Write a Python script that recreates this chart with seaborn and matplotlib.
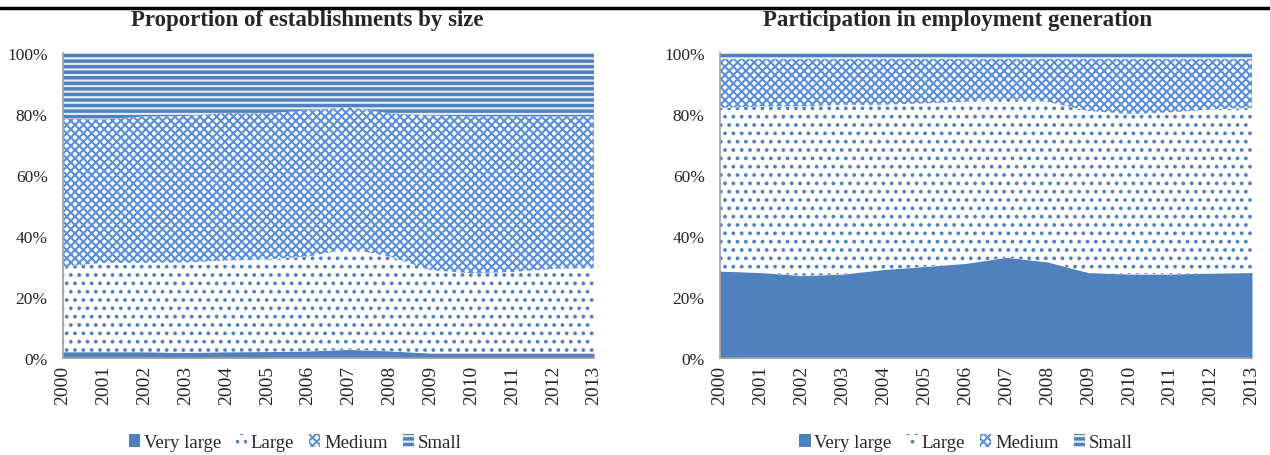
import numpy as np
import pandas as pd
import matplotlib
matplotlib.use("Agg")
import matplotlib.pyplot as plt
import seaborn as sns
from matplotlib.patches import Patch
from matplotlib.ticker import PercentFormatter

years = list(range(2000, 2014))
series = ["Very large", "Large", "Medium", "Small"]

# Proportion of establishments by size (% of total)
est_very_large = [2.0, 2.0, 2.0, 1.8, 2.0, 2.1, 2.3, 2.8, 2.3, 1.6, 1.6, 1.6, 1.6, 1.6]
est_large = [28.0, 29.2, 29.2, 29.5, 30.0, 30.2, 31.0, 33.0, 31.0, 27.2, 26.2, 26.6, 27.6, 28.0]
est_medium = [48.4, 47.0, 48.0, 48.0, 48.3, 47.9, 47.9, 46.4, 46.9, 50.7, 51.4, 51.0, 50.0, 49.6]
est_small = [21.6, 21.8, 20.8, 20.7, 19.7, 19.8, 18.8, 17.8, 19.8, 20.5, 20.8, 20.8, 20.8, 20.8]

# Participation in employment generation (% of total)
emp_very_large = [28.5, 28.0, 27.0, 27.5, 29.0, 30.0, 31.0, 33.0, 31.5, 28.0, 27.5, 27.5, 27.8, 28.0]
emp_large = [53.5, 54.5, 55.5, 55.5, 54.0, 53.5, 53.0, 52.0, 52.5, 53.0, 52.5, 53.0, 53.7, 54.0]
emp_medium = [16.0, 15.5, 15.5, 15.0, 15.0, 14.5, 14.0, 13.0, 14.0, 17.0, 18.0, 17.5, 16.5, 16.0]
emp_small = [2.0, 2.0, 2.0, 2.0, 2.0, 2.0, 2.0, 2.0, 2.0, 2.0, 2.0, 2.0, 2.0, 2.0]

titles = ["Proportion of establishments by size", "Participation in employment generation"]

sns.set_style("white")
plt.rcParams["font.family"] = ["Liberation Serif", "DejaVu Serif"]
plt.rcParams["hatch.linewidth"] = 1.5

blue = "#4F81BD"
styles = [
    dict(facecolor=blue, edgecolor=blue, hatch=None),
    dict(facecolor="white", edgecolor=blue, hatch=".."),
    dict(facecolor="white", edgecolor="#5B8FDB", hatch="xxxx"),
    dict(facecolor=blue, edgecolor="#E8EEF7", hatch="---"),
]

fig = plt.figure(figsize=(12.7, 4.56), dpi=100)
axes = [fig.add_axes([0.0496, 0.2127, 0.4181, 0.6689]),
        fig.add_axes([0.5669, 0.2127, 0.4189, 0.6689])]

datasets = [
    [est_very_large, est_large, est_medium, est_small],
    [emp_very_large, emp_large, emp_medium, emp_small],
]

for i, (ax, data, title, cx) in enumerate(zip(axes, datasets, titles, [0.2417, 0.7543])):
    df = pd.DataFrame(dict(zip(series, data)), index=years)
    cum = df.cumsum(axis=1)
    lower = np.zeros(len(years))
    for name, st in zip(series, styles):
        upper = cum[name].values
        ax.fill_between(df.index, lower, upper, facecolor=st["facecolor"],
                        edgecolor=st["edgecolor"], hatch=st["hatch"], linewidth=0)
        lower = upper
    sns.lineplot(x=df.index, y=cum["Small"].values, ax=ax, color=blue, linewidth=0)
    ax.set_xlabel("")
    ax.set_ylabel("")
    ax.set_xlim(2000, 2013)
    ax.set_ylim(0, 100)
    ax.set_xticks(years)
    ax.set_xticklabels([str(y) for y in years], rotation=90, fontsize=14)
    ax.set_yticks(range(0, 101, 20))
    ax.yaxis.set_major_formatter(PercentFormatter(decimals=0))
    ax.tick_params(axis="y", labelsize=12.5, length=0, pad=11)
    ax.tick_params(axis="x", length=0, pad=5)
    for s in ["top", "right"]:
        ax.spines[s].set_visible(False)
    for s in ["left", "bottom"]:
        ax.spines[s].set_color("#A0A0A0")
        ax.spines[s].set_linewidth(1.2)
    fig.text(cx, 0.955, title, ha="center", va="center",
             fontsize=16.5, fontweight="bold")
    handles = [Patch(facecolor=st["facecolor"], edgecolor=st["edgecolor"],
                     hatch=st["hatch"], linewidth=0, label=n) for n, st in zip(series, styles)]
    fig.legend(handles=handles, loc="center", bbox_to_anchor=(0.2323 if i == 0 else 0.7606, 0.028),
               ncol=4, frameon=False, fontsize=13.5, handlelength=0.6, handleheight=0.7,
               handletextpad=0.2, columnspacing=0.8)

fig.add_artist(plt.Line2D([0, 1], [0.98, 0.98], color="black", linewidth=2.5,
                          transform=fig.transFigure))

fig.savefig("out.png", dpi=100)
